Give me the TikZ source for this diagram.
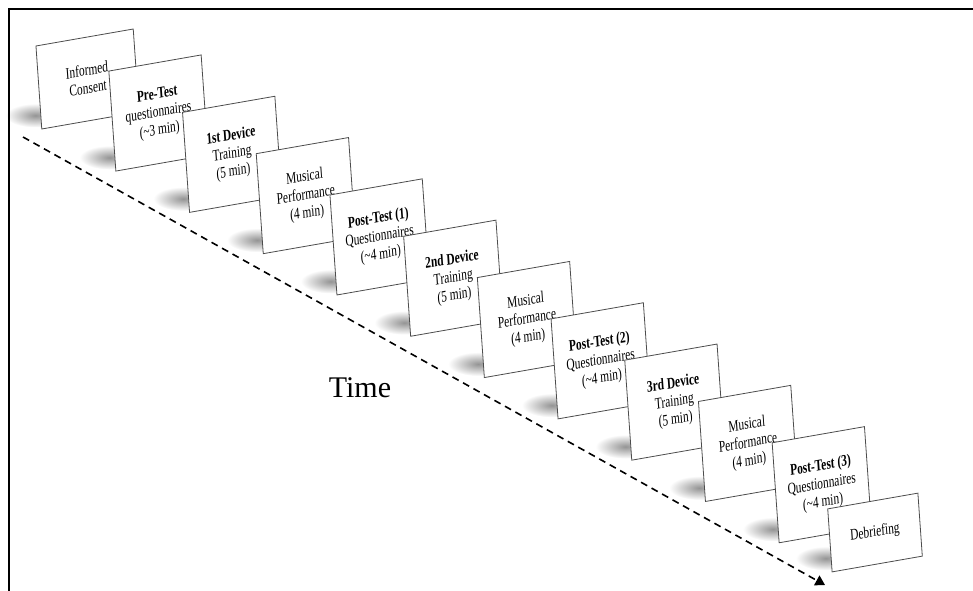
\documentclass[tikz,border=0pt]{standalone}
\usepackage{fontspec}
\setmainfont{Liberation Serif}
\usetikzlibrary{arrows.meta,backgrounds}
\begin{document}
\begin{tikzpicture}[x=1pt,y=-1pt,
 card/.style={draw=black!70,line width=0.8pt,fill=white,inner sep=0pt,
  minimum width=130pt,minimum height=100pt,align=center,
  font=\fontsize{16}{18}\selectfont,cm={0.71,0.124,-0.07,1,(0,0)}},
 shadow/.style={inner color=black!42,outer color=white}]
 \useasboundingbox (0,0) rectangle (973,590);
 \draw[line width=2pt] (9,600) -- (9,9) -- (980,9);
 % time line
 \coordinate (start) at (23,137);
 \coordinate (end) at (825,585);
 \draw[line width=1.6pt,dash pattern=on 7pt off 5pt,-{Triangle[length=9.5pt,width=11pt]}] (start) -- (end);
 \node[font=\fontsize{30}{34}\selectfont] (time) at (360,388) {Time};
 % cards
 \node[card,minimum width=137pt,minimum height=83pt] (consent) at (87.5,79) {Informed\\Consent};
 \node[card] (pretest) at (158.5,113) {\textbf{Pre-Test}\\questionnaires\\(\textasciitilde3 min)};
 \node[card] (train1) at (232.2,154.3) {\textbf{1st Device}\\Training\\(5 min)};
 \node[card] (play1) at (305.9,195.6) {Musical\\Performance\\(4 min)};
 \node[card] (post1) at (379.6,236.9) {\textbf{Post-Test (1)}\\Questionnaires\\(\textasciitilde4 min)};
 \node[card] (train2) at (453.3,278.2) {\textbf{2nd Device}\\Training\\(5 min)};
 \node[card] (play2) at (527,319.5) {Musical\\Performance\\(4 min)};
 \node[card] (post2) at (600.7,360.8) {\textbf{Post-Test (2)}\\Questionnaires\\(\textasciitilde4 min)};
 \node[card] (train3) at (674.4,402.1) {\textbf{3rd Device}\\Training\\(5 min)};
 \node[card] (play3) at (748.1,443.4) {Musical\\Performance\\(4 min)};
 \node[card] (post3) at (821.8,484.7) {\textbf{Post-Test (3)}\\Questionnaires\\(\textasciitilde4 min)};
 \node[card,minimum width=127pt,minimum height=63pt] (debrief) at (875,532.5) {Debriefing};
 % shadows
 \begin{scope}[on background layer]
  \shade[shadow] ([xshift=-6pt,yshift=14pt]consent.south west) ellipse [x radius=30pt,y radius=12pt];
  \shade[shadow] ([xshift=-6pt,yshift=14pt]pretest.south west) ellipse [x radius=30pt,y radius=12pt];
  \shade[shadow] ([xshift=-6pt,yshift=14pt]train1.south west) ellipse [x radius=30pt,y radius=12pt];
  \shade[shadow] ([xshift=-6pt,yshift=14pt]play1.south west) ellipse [x radius=30pt,y radius=12pt];
  \shade[shadow] ([xshift=-6pt,yshift=14pt]post1.south west) ellipse [x radius=30pt,y radius=12pt];
  \shade[shadow] ([xshift=-6pt,yshift=14pt]train2.south west) ellipse [x radius=30pt,y radius=12pt];
  \shade[shadow] ([xshift=-6pt,yshift=14pt]play2.south west) ellipse [x radius=30pt,y radius=12pt];
  \shade[shadow] ([xshift=-6pt,yshift=14pt]post2.south west) ellipse [x radius=30pt,y radius=12pt];
  \shade[shadow] ([xshift=-6pt,yshift=14pt]train3.south west) ellipse [x radius=30pt,y radius=12pt];
  \shade[shadow] ([xshift=-6pt,yshift=14pt]play3.south west) ellipse [x radius=30pt,y radius=12pt];
  \shade[shadow] ([xshift=-6pt,yshift=14pt]post3.south west) ellipse [x radius=30pt,y radius=12pt];
  \shade[shadow] ([xshift=-6pt,yshift=14pt]debrief.south west) ellipse [x radius=30pt,y radius=12pt];
 \end{scope}
\end{tikzpicture}
\end{document}
